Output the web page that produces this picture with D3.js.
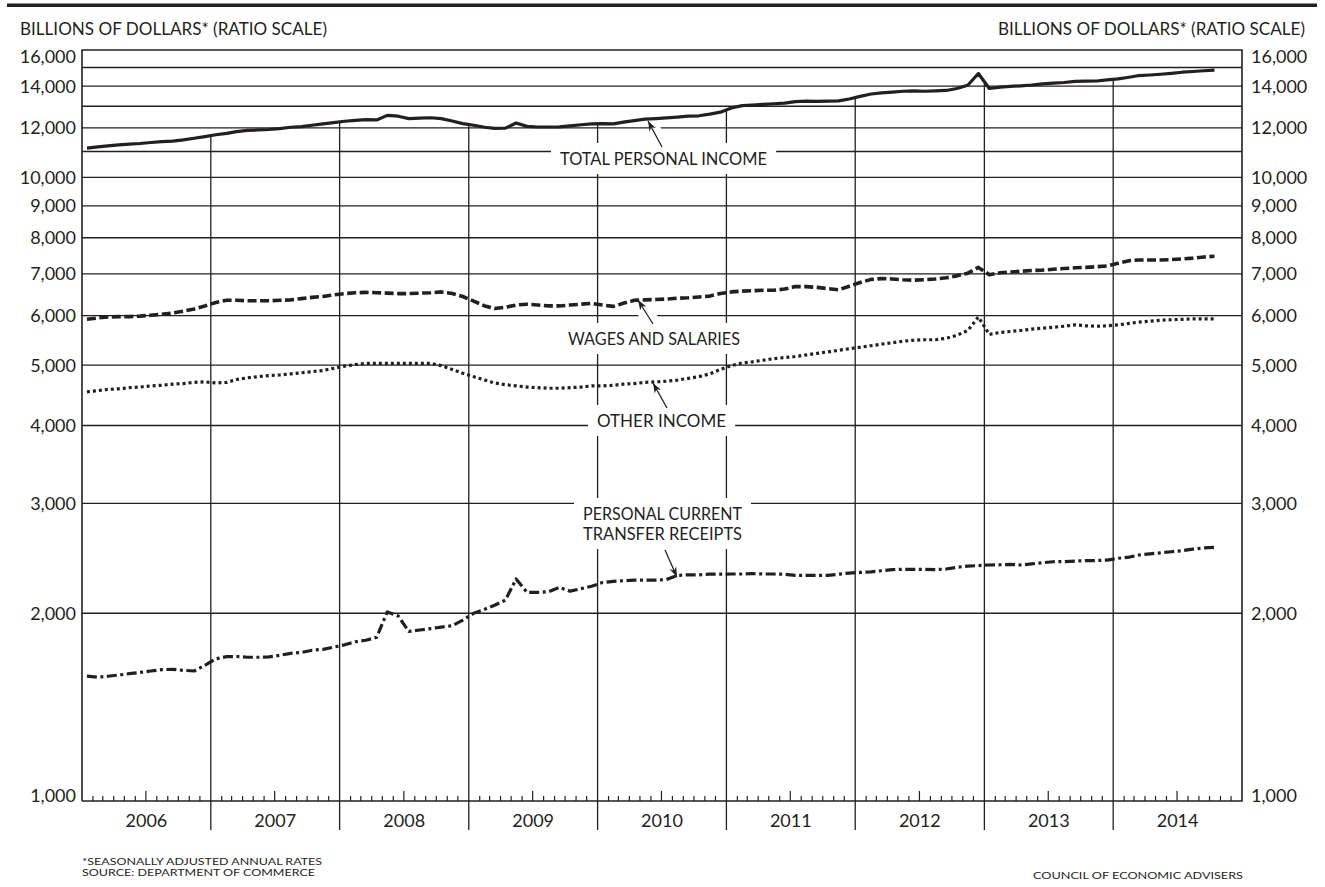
<!DOCTYPE html>
<html><head><meta charset="utf-8">
<script src="https://cdn.jsdelivr.net/npm/d3@7"></script>
<style>
body{margin:0;background:#fff}
svg{display:block}
text{font-family:Lato,"Open Sans",sans-serif;fill:#231f20}
</style>
</head><body>
<svg id="c" width="1325" height="887"></svg>
<script>
// ---------- data (billions of dollars, SAAR, monthly Jan 2006 – Oct 2014) ----------
const startMonth = "2006-01";
const yearLabels = ["2006","2007","2008","2009","2010","2011","2012","2013","2014"];
const yLabelValues = [16000,14000,12000,10000,9000,8000,7000,6000,5000,4000,3000,2000,1000];
const gridValues = [15000,14000,13000,12000,11000,10000,9000,8000,7000,6000,5000,4000,3000,2000];

const totalIncome = [
11140,11190,11230,11270,11300,11330,11370,11410,11430,11480,11550,11620,
11700,11760,11840,11890,11910,11930,11970,12030,12060,12120,12180,12240,
12300,12340,12370,12360,12570,12530,12420,12440,12460,12420,12310,12190,
12120,12030,11980,11990,12220,12070,12040,12040,12050,12090,12140,12180,
12190,12180,12260,12330,12400,12420,12450,12490,12530,12550,12630,12720,
12920,13030,13060,13090,13120,13150,13220,13250,13240,13250,13260,13350,
13480,13600,13660,13700,13740,13760,13740,13760,13780,13880,14050,14670,
13880,13950,13990,14020,14060,14120,14160,14190,14250,14260,14270,14330,
14380,14470,14560,14590,14630,14680,14740,14780,14820,14850];

const wagesSalaries = [
5920,5950,5970,5980,5980,5990,6010,6030,6060,6100,6150,6220,
6300,6350,6350,6340,6340,6340,6350,6360,6390,6420,6440,6480,
6510,6530,6540,6530,6520,6510,6510,6520,6530,6550,6510,6440,
6330,6220,6160,6190,6240,6260,6240,6220,6220,6240,6260,6280,
6240,6210,6280,6350,6360,6370,6380,6400,6410,6430,6450,6510,
6550,6570,6580,6590,6590,6620,6680,6680,6660,6630,6600,6690,
6780,6860,6880,6870,6850,6840,6850,6870,6900,6950,7020,7170,
6980,7030,7050,7070,7090,7100,7120,7140,7160,7170,7190,7210,
7280,7350,7370,7370,7370,7380,7400,7420,7450,7470];

const otherIncome = [
4530,4550,4570,4580,4600,4610,4630,4640,4660,4670,4690,4700,
4680,4690,4740,4770,4790,4810,4820,4840,4860,4880,4900,4940,
4980,5010,5030,5030,5030,5030,5030,5030,5030,4990,4920,4850,
4790,4730,4680,4650,4630,4610,4600,4590,4590,4600,4610,4630,
4630,4640,4660,4670,4690,4700,4710,4730,4760,4790,4840,4920,
4990,5040,5060,5090,5120,5140,5160,5190,5220,5250,5280,5310,
5340,5370,5400,5430,5460,5480,5490,5490,5520,5580,5680,5970,
5600,5640,5660,5680,5710,5730,5750,5770,5800,5780,5770,5780,
5800,5830,5860,5880,5900,5910,5920,5930,5930,5930];

const transferReceipts = [
1586,1579,1585,1592,1600,1608,1616,1624,1626,1620,1616,1650,
1690,1704,1705,1700,1700,1702,1712,1725,1730,1745,1750,1765,
1780,1800,1810,1830,2010,1980,1870,1880,1890,1900,1910,1950,
2000,2030,2060,2100,2270,2160,2160,2165,2200,2170,2190,2210,
2240,2250,2255,2260,2260,2260,2265,2300,2305,2305,2310,2310,
2312,2312,2315,2312,2312,2310,2300,2300,2300,2300,2310,2320,
2325,2330,2340,2350,2352,2352,2352,2350,2355,2370,2380,2385,
2390,2392,2395,2390,2400,2410,2419,2420,2425,2428,2430,2434,
2450,2460,2480,2490,2500,2510,2520,2535,2545,2550];

// ---------- layout ----------
const ink = "#231f20";
const L = 82, R = 1242, T = 50, B = 801;
const svg = d3.select("#c");

const x = d3.scaleTime().domain([new Date(2006,0,1), new Date(2015,0,1)]).range([L, R]);
const y = d3.scaleLog().domain([1000,16000]).range([B, T]);

const t0 = d3.timeParse("%Y-%m")(startMonth);
const months = d3.timeMonth.range(t0, d3.timeMonth.offset(t0, totalIncome.length));
const mid = d => new Date(d.getFullYear(), d.getMonth(), 15.5);

// top rule
svg.append("rect").attr("x",7).attr("y",3.5).attr("width",1310).attr("height",3.5).attr("fill",ink);

// titles
svg.append("text").attr("x",20).attr("y",35).attr("font-size",16.5)
  .attr("textLength",307).attr("lengthAdjust","spacingAndGlyphs")
  .text("BILLIONS OF DOLLARS* (RATIO SCALE)");
svg.append("text").attr("x",998).attr("y",35).attr("font-size",16.5)
  .attr("textLength",307).attr("lengthAdjust","spacingAndGlyphs")
  .text("BILLIONS OF DOLLARS* (RATIO SCALE)");

// horizontal gridlines
svg.append("g").selectAll("line").data(gridValues).join("line")
  .attr("x1",L).attr("x2",R).attr("y1",d=>y(d)).attr("y2",d=>y(d))
  .attr("stroke",ink).attr("stroke-width",1.3);

// year boundary lines (from total-income line down below the axis)
const bounds = d3.timeYear.range(new Date(2007,0,1), new Date(2015,0,1));
const pts = months.map((m,i)=>[x(mid(m)), y(totalIncome[i])]);
function yOnTotal(xb){
  for(let i=0;i<pts.length-1;i++){
    if(pts[i][0]<=xb && pts[i+1][0]>=xb){
      const t=(xb-pts[i][0])/(pts[i+1][0]-pts[i][0]);
      return pts[i][1]+t*(pts[i+1][1]-pts[i][1]);
    }
  }
  return T;
}
svg.append("g").selectAll("line").data(bounds).join("line")
  .attr("x1",d=>x(d)).attr("x2",d=>x(d))
  .attr("y1",d=> x(d) < R ? yOnTotal(x(d)) : T).attr("y2",d=> x(d) < R-1 ? 830 : B)
  .attr("stroke",ink).attr("stroke-width",1.3);

// frame (left, top, right, bottom)
svg.append("path").attr("d",`M${L},${B}V${T}H${R}V${B}H${L}`)
  .attr("fill","none").attr("stroke",ink).attr("stroke-width",1.6);

// month ticks
const mTicks = d3.timeMonth.range(new Date(2006,0,1), new Date(2015,0,1)).filter(d=>d.getMonth()!==0);
svg.append("g").selectAll("line").data(mTicks).join("line")
  .attr("x1",d=>x(d)).attr("x2",d=>x(d)).attr("y1",B).attr("y2",d=>B-(d.getMonth()===6?10:5))
  .attr("stroke",ink).attr("stroke-width",1.2);

// year labels
svg.append("g").selectAll("text").data(yearLabels).join("text")
  .attr("x",(d,i)=> (x(new Date(+d,0,1))+x(new Date(+d+1,0,1)))/2).attr("y",827)
  .attr("text-anchor","middle").attr("font-size",18).text(d=>d);

// y labels both sides
const fmt = d3.format(",");
const labY = d => d===16000 ? y(d)+13 : d===1000 ? y(d)+1 : y(d)+6.5;
svg.append("g").selectAll("text").data(yLabelValues).join("text")
  .attr("x",76).attr("y",labY).attr("text-anchor","end").attr("font-size",18).text(fmt);
svg.append("g").selectAll("text").data(yLabelValues).join("text")
  .attr("x",1251).attr("y",labY).attr("text-anchor","start").attr("font-size",18).text(fmt);

// series labels (white boxes), arrows
const labels = [
  {lines:["TOTAL PERSONAL INCOME"], x0:560, w:[207], by:165, arrow:[[662,147],[648,121]]},
  {lines:["WAGES AND SALARIES"], x0:568, w:[172], by:345, arrow:[[653,324],[638,300]]},
  {lines:["OTHER INCOME"], x0:597, w:[129], by:427, arrow:[[667,408],[653,383]]},
  {lines:["PERSONAL CURRENT","TRANSFER RECEIPTS"], x0:583, w:[159,159], by:520, arrow:[[665,550],[677,577]]}
];
const boxG = svg.append("g"), haloG = svg.append("g");
const seriesG = svg.append("g");
const arrowG = svg.append("g"), textG = svg.append("g");

svg.append("defs").append("marker").attr("id","ah").attr("viewBox","-10 -5 12 10")
  .attr("refX",0).attr("refY",0).attr("markerWidth",12).attr("markerHeight",10)
  .attr("markerUnits","userSpaceOnUse").attr("orient","auto")
  .append("path").attr("d","M0,0L-10,-3.6L-7,0L-10,3.6Z").attr("fill",ink);

labels.forEach(lb=>{
  const tg = textG.append("g");
  lb.lines.forEach((s,k)=>{
    tg.append("text").attr("x",lb.x0).attr("y",lb.by+k*20)
      .attr("font-size",17).attr("textLength",lb.w[k]).attr("lengthAdjust","spacingAndGlyphs").text(s);
  });
  const bb = tg.node().getBBox();
  boxG.append("rect").attr("x",bb.x-9).attr("y",bb.y-5).attr("width",bb.width+18).attr("height",bb.height+10)
    .attr("fill","#fff");
  const [a,b] = lb.arrow;
  haloG.append("line").attr("x1",a[0]).attr("y1",a[1]).attr("x2",(a[0]+b[0]*3)/4).attr("y2",(a[1]+b[1]*3)/4)
    .attr("stroke","#fff").attr("stroke-width",16);
  arrowG.append("line").attr("x1",a[0]).attr("y1",a[1]).attr("x2",b[0]).attr("y2",b[1])
    .attr("stroke",ink).attr("stroke-width",1.3).attr("marker-end","url(#ah)");
});

// series
const line = d3.line().x((d,i)=>x(mid(months[i]))).y(d=>y(d));
const series = [
  {data:totalIncome, dash:null, w:3.2},
  {data:wagesSalaries, dash:"9,3.5", w:3.6},
  {data:otherIncome, dash:"3,3", w:3.2},
  {data:transferReceipts, dash:"10,3.5,3,3.5", w:3.2}
];
series.forEach(s=>{
  seriesG.append("path").attr("d",line(s.data)).attr("fill","none").attr("stroke",ink)
    .attr("stroke-width",s.w).attr("stroke-linejoin","round")
    .attr("stroke-dasharray",s.dash);
});

// footnotes
svg.append("text").attr("x",82).attr("y",865).attr("font-size",10)
  .attr("textLength",240).attr("lengthAdjust","spacingAndGlyphs")
  .text("*SEASONALLY ADJUSTED ANNUAL RATES");
svg.append("text").attr("x",82).attr("y",876).attr("font-size",10)
  .attr("textLength",233).attr("lengthAdjust","spacingAndGlyphs")
  .text("SOURCE: DEPARTMENT OF COMMERCE");
svg.append("text").attr("x",1033).attr("y",879).attr("font-size",10.2)
  .attr("textLength",210).attr("lengthAdjust","spacingAndGlyphs")
  .text("COUNCIL OF ECONOMIC ADVISERS");
</script>
</body></html>
